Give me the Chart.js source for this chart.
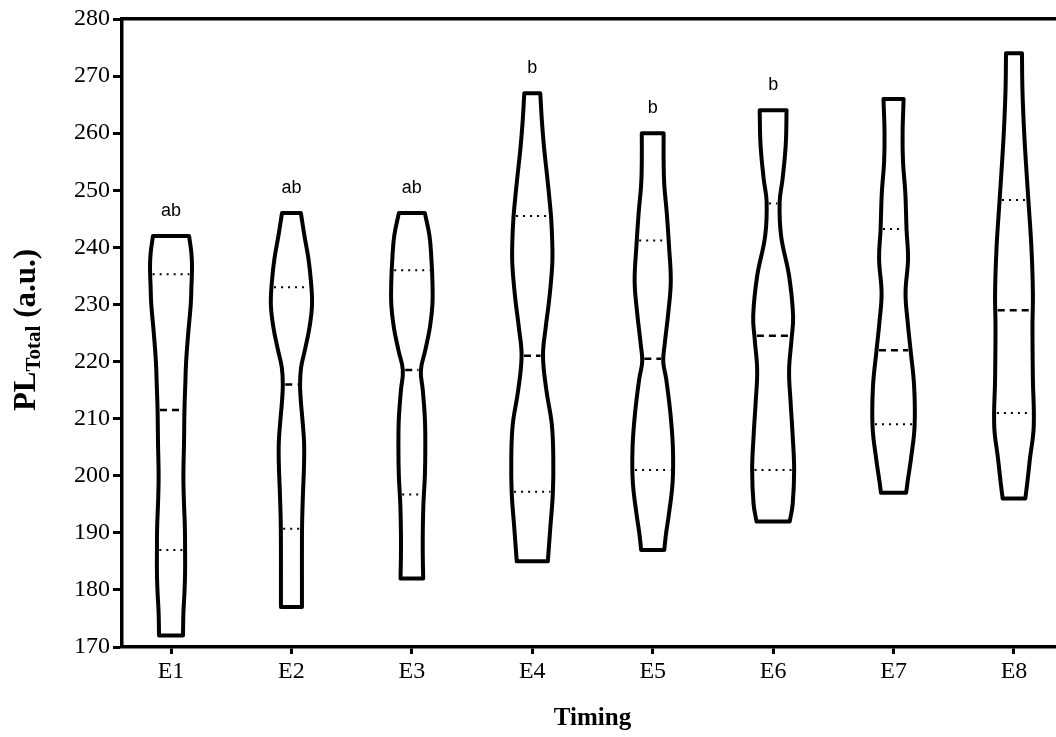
<!DOCTYPE html>
<html><head><meta charset="utf-8">
<script src="https://cdn.jsdelivr.net/npm/chart.js@4.4.1/dist/chart.umd.min.js"></script>
<style>
html,body{margin:0;padding:0;background:#fff;overflow:hidden;width:1056px;height:737px}
#wrap{position:absolute;left:0;top:0;width:1064px;height:737px}
</style>
</head><body><div id="wrap"><canvas id="c" width="1064" height="737"></canvas></div>
<script>
// ---------- data ----------
const categories = ['E1','E2','E3','E4','E5','E6','E7','E8'];
const yTicks = [170,180,190,200,210,220,230,240,250,260,270,280];
const medians = [211.5, 216, 218.5, 221, 220.5, 224.5, 222, 229];
const lowerQuartiles = [187, 190.7, 196.7, 197.2, 201, 201, 209, 211];
const upperQuartiles = [235.3, 233, 236, 245.5, 241.2, 247.7, 243.2, 248.3];
const groupLetters = ['ab','ab','ab','b','b','b','',''];
const xTitle = 'Timing';
const yTitleMain = 'PL', yTitleSub = 'Total', yTitleUnit = ' (a.u.)';

// density profiles: [value, relative density]
const densityE1 = [[172,.57],[176,.59],[179.5,.64],[183,.67],[187,.67],[191,.66],[196,.61],[200,.59],[206,.62],[211.5,.64],[216,.68],[220,.72],[225,.82],[230,.94],[233,.97],[236.5,1.0],[239,.97],[242,.86]];
const densityE2 = [[177,.50],[182,.50],[187,.50],[192,.51],[197,.55],[202,.60],[206,.60],[210,.52],[213,.45],[216,.41],[219,.46],[222,.64],[226,.86],[230,.98],[234,.93],[238,.81],[242,.62],[246,.45]];
const densityE3 = [[182,.54],[186,.52],[190,.52],[195,.55],[200,.62],[205,.64],[210,.62],[215,.52],[218.5,.43],[222,.64],[226,.86],[230,.98],[234,.98],[238,.93],[242,.84],[246,.62]];
const densityE4 = [[185,.74],[191,.86],[197,.98],[203,1.0],[209,.93],[215,.67],[221,.51],[226,.64],[231,.81],[237,.95],[241,.95],[245,.90],[248,.83],[252,.72],[257.5,.56],[262,.46],[267,.38]];
const densityE5 = [[187,.55],[190,.64],[193.5,.78],[199,.95],[205,.96],[211,.84],[217,.64],[220,.50],[223,.57],[228.5,.74],[234,.86],[240,.78],[246,.67],[251,.55],[255,.52],[260,.52]];
const densityE6 = [[192,.79],[195,.93],[201,1.0],[207,.93],[213,.83],[218.5,.76],[224,.88],[228,.95],[235,.76],[242,.38],[248,.31],[252,.45],[258,.60],[264,.64]];
const densityE7 = [[197,.60],[199,.67],[203,.83],[208.6,1.0],[215.6,.98],[222,.81],[227,.67],[232,.57],[238,.69],[243,.62],[249.5,.56],[255,.45],[260,.43],[266,.48]];
const densityE8 = [[196,.54],[199,.64],[203,.76],[208.6,.94],[217,.90],[226,.88],[232,.90],[240,.83],[248,.69],[256.5,.54],[262,.46],[268,.40],[274,.38]];
const densityProfiles = [densityE1,densityE2,densityE3,densityE4,densityE5,densityE6,densityE7,densityE8];

// ---------- build ----------
const HALF = 0.1744;   // half width (category units) at density 1
const INNER = 0.02;    // keep quartile lines inside the outline

function densityAt(p, v){
  for (let k=0;k<p.length-1;k++){
    if (v>=p[k][0] && v<=p[k+1][0]){
      const t=(v-p[k][0])/(p[k+1][0]-p[k][0]);
      return p[k][1]+t*(p[k+1][1]-p[k][1]);
    }
  }
  return v<p[0][0]?p[0][1]:p[p.length-1][1];
}

const datasets = [];
densityProfiles.forEach((p, i) => {
  const c = i + 1;
  const left = p.map(([v,d]) => ({x: c - d*HALF, y: v}));
  const right = p.slice().reverse().map(([v,d]) => ({x: c + d*HALF, y: v}));
  const pts = [];
  left.forEach(q => pts.push(q));
  pts.push({...left[left.length-1]});
  pts.push({...right[0]});
  right.forEach(q => pts.push(q));
  pts.push({...right[right.length-1]});
  pts.push({...left[0]});
  pts.push({...left[0]});
  datasets.push({
    data: pts, showLine: true, tension: 0.4, borderColor: '#000', borderWidth: 4,
    pointRadius: 0, fill: false, borderJoinStyle: 'round', borderCapStyle: 'round'
  });
  [[lowerQuartiles[i],[2,5],2],[upperQuartiles[i],[2,5],2],[medians[i],[7,5],2.5]].forEach(([q,dash,w]) => {
    const hw = densityAt(p,q)*HALF - INNER;
    datasets.push({
      data: [{x: c-hw, y: q},{x: c+hw, y: q}], showLine: true, tension: 0,
      borderColor: '#000', borderWidth: w, borderDash: dash, pointRadius: 0, fill: false
    });
  });
});

const letterPlugin = {
  id: 'letters',
  afterDatasetsDraw(chart){
    const ctx = chart.ctx, xs = chart.scales.x, ys = chart.scales.y;
    ctx.save();
    ctx.font = '18px "Liberation Sans", Arial, sans-serif';
    ctx.fillStyle = '#000'; ctx.textAlign = 'center'; ctx.textBaseline = 'alphabetic';
    groupLetters.forEach((t,i) => {
      if (!t) return;
      const p = densityProfiles[i];
      const top = p[p.length-1][0];
      ctx.fillText(t, xs.getPixelForValue(i+1), ys.getPixelForValue(top) - 20);
    });
    ctx.restore();
  }
};

const yTitlePlugin = {
  id: 'yTitle',
  afterDraw(chart){
    const ctx = chart.ctx, ca = chart.chartArea;
    const cy = (ca.top + ca.bottom)/2 - 3, bx = 35;
    const mainF = 'bold 31px "Liberation Serif", "Times New Roman", serif';
    const subF = 'bold 21px "Liberation Serif", "Times New Roman", serif';
    const parts = [[yTitleMain, mainF, 0],[yTitleSub, subF, 5],[yTitleUnit, mainF, 0]];
    ctx.save();
    ctx.fillStyle = '#000'; ctx.textBaseline = 'alphabetic'; ctx.textAlign = 'left';
    let total = 0;
    parts.forEach(([t,f]) => { ctx.font = f; total += ctx.measureText(t).width; });
    ctx.translate(bx, cy); ctx.rotate(-Math.PI/2);
    let x = -total/2;
    parts.forEach(([t,f,dy]) => { ctx.font = f; ctx.fillText(t, x, dy); x += ctx.measureText(t).width; });
    ctx.restore();
  }
};

const serif = '"Liberation Serif", "Times New Roman", serif';

new Chart(document.getElementById('c'), {
  type: 'scatter',
  data: { datasets },
  options: {
    responsive: false, devicePixelRatio: 1, animation: false,
    layout: { padding: { top: 19, right: 1, bottom: 0, left: 0 } },
    plugins: { legend: { display: false }, tooltip: { enabled: false } },
    scales: {
      x: {
        type: 'linear', position: 'bottom', min: 0.593, max: 8.407,
        afterBuildTicks: s => { s.ticks = categories.map((_, i) => ({ value: i+1 })); },
        afterFit: s => { s.height = 90; },
        ticks: { color: '#000', font: { family: serif, size: 24 }, padding: 3,
                 callback: v => categories[Math.round(v)-1], maxRotation: 0, autoSkip: false },
        grid: { display: true, drawOnChartArea: false, tickLength: 7, tickWidth: 3, tickColor: '#000' },
        border: { display: true, color: '#000', width: 3.5 },
        title: { display: true, text: xTitle, color: '#000',
                 font: { family: serif, size: 25, weight: 'bold' }, padding: { top: 0, bottom: 3 } }
      },
      x2: {
        type: 'linear', position: 'top', min: 0.593, max: 8.407,
        afterFit: s => { s.height = 0; },
        ticks: { display: false },
        grid: { display: false },
        border: { display: true, color: '#000', width: 3.5 }
      },
      y: {
        type: 'linear', position: 'left', min: 170, max: 280,
        afterBuildTicks: s => { s.ticks = yTicks.map(v => ({ value: v })); },
        afterFit: s => { s.width = 122; },
        ticks: { color: '#000', font: { family: serif, size: 24 }, padding: 3 },
        grid: { display: true, drawOnChartArea: false, tickLength: 9, tickWidth: 3, tickColor: '#000' },
        border: { display: true, color: '#000', width: 3.5 }
      }
    }
  },
  plugins: [letterPlugin, yTitlePlugin]
});
</script>
</body></html>
